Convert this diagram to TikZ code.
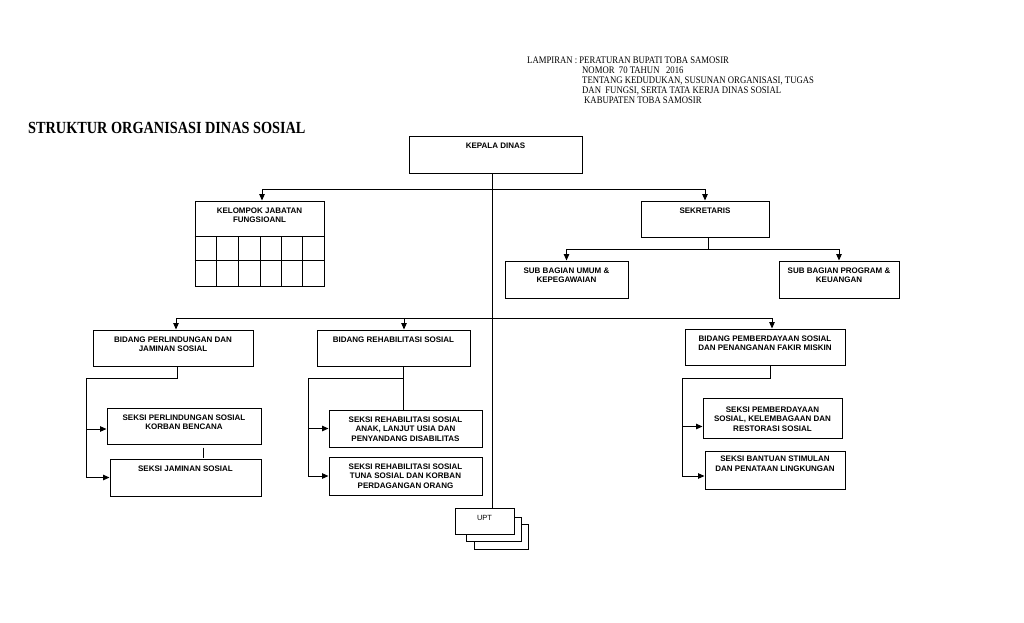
\documentclass[tikz,border=0pt]{standalone}
\usepackage{fontspec}
\setmainfont{Liberation Serif}
\newfontfamily\boxfont{Liberation Sans}
\newfontfamily\lampfont[FakeStretch=0.87]{Liberation Serif}
\newfontfamily\titlefont[FakeStretch=0.84]{Liberation Serif}
\usetikzlibrary{arrows.meta}
\newcommand\bt[4][12]{\parbox[c][#3pt][t]{#2pt}{\centering\rule{0pt}{#1pt}#4}}
\tikzset{
  box/.style={draw, line width=1pt, inner sep=0pt, fill=white,
    font=\boxfont\bfseries\fontsize{8}{9.8}\selectfont},
  uptbox/.style={draw, line width=0.9pt, inner sep=0pt, fill=white,
    font=\boxfont\fontsize{7.5}{8}\selectfont},
  con/.style={line width=1pt},
  arr/.style={con, -{Triangle[length=6.5pt,width=5.5pt]}},
  lamp/.style={anchor=base west, inner sep=0pt, font=\lampfont\fontsize{10}{10}\selectfont},
  grid/.style={line width=1pt}
}
\begin{document}
\begin{tikzpicture}[x=1pt,y=-1pt]
\useasboundingbox (0,0) rectangle (1024,622);

% header text
\node[lamp] (l1) at (527,63.8) {LAMPIRAN : PERATURAN BUPATI TOBA SAMOSIR};
\node[lamp] (l2) at (582,73.6) {NOMOR\ \ 70 TAHUN\ \ \ 2016};
\node[lamp] (l3) at (582,83.4) {TENTANG KEDUDUKAN, SUSUNAN ORGANISASI, TUGAS};
\node[lamp] (l4) at (582,93.2) {DAN\ \ FUNGSI, SERTA TATA KERJA DINAS SOSIAL};
\node[lamp] (l5) at (584,103) {KABUPATEN TOBA SAMOSIR};
\node[anchor=west, inner sep=0pt, font=\titlefont\bfseries\fontsize{17}{20}\selectfont] (title) at (28,128) {STRUKTUR ORGANISASI DINAS SOSIAL};

% UPT stack (drawn first, below trunk)
\node[uptbox] (upt3) at (501,536.5) {\bt{54}{25}{}};
\node[uptbox] (upt2) at (493.5,529) {\bt{55}{24}{}};
\node[uptbox] (upt) at (484.5,521) {\bt[12.8]{59}{26}{UPT}};

% boxes
\node[box] (kd) at (495.5,154.5) {\bt{173}{37}{KEPALA DINAS}};
\node[box] (kjf) at (259.5,243.5) {\bt{129}{85}{KELOMPOK JABATAN\\FUNGSIOANL}};
\node[box] (sek) at (705,219) {\bt{128}{36}{SEKRETARIS}};
\node[box] (sbu) at (566.5,279.5) {\bt{123}{37}{SUB BAGIAN UMUM \&\\KEPEGAWAIAN}};
\node[box] (sbp) at (839,279.5) {\bt{120}{37}{SUB BAGIAN PROGRAM \&\\KEUANGAN}};
\node[box] (bp) at (173,348) {\bt{160}{36}{BIDANG PERLINDUNGAN DAN\\JAMINAN SOSIAL}};
\node[box] (br) at (393.5,348) {\bt{153}{36}{BIDANG REHABILITASI SOSIAL}};
\node[box] (bpm) at (765,347) {\bt{160}{36}{BIDANG PEMBERDAYAAN SOSIAL\\DAN PENANGANAN FAKIR MISKIN}};
\node[box] (spl) at (184,426) {\bt{154}{36}{SEKSI PERLINDUNGAN SOSIAL\\KORBAN BENCANA}};
\node[box] (sjs) at (185.5,477.5) {\bt{151}{37}{SEKSI JAMINAN SOSIAL}};
\node[box] (sra) at (405.5,428.5) {\bt{153}{37}{SEKSI REHABILITASI SOSIAL\\ANAK, LANJUT USIA DAN\\PENYANDANG DISABILITAS}};
\node[box] (srt) at (405.5,476) {\bt{153}{38}{SEKSI REHABILITASI SOSIAL\\TUNA SOSIAL DAN KORBAN\\PERDAGANGAN ORANG}};
\node[box] (spm) at (772.5,418) {\bt[14]{139}{40}{SEKSI PEMBERDAYAAN\\SOSIAL, KELEMBAGAAN DAN\\RESTORASI SOSIAL}};
\node[box] (sbs) at (775,470) {\bt[10.5]{140}{38}{SEKSI BANTUAN STIMULAN\\DAN PENATAAN LINGKUNGAN}};

% KJF grid
\foreach \yy in {36,60}
  \draw[grid] ([yshift=-\yy pt]kjf.north west) -- ([yshift=-\yy pt]kjf.north east);
\foreach \xx in {22,44,66,87,108}
  \draw[grid] ([xshift=\xx pt,yshift=-36pt]kjf.north west) -- ([xshift=\xx pt]kjf.south west);

% junction coordinates
\coordinate (t) at (492,0);
\coordinate (h1) at (492,189);
\coordinate (h2) at (708,249);
\coordinate (h3) at (492,318);
\coordinate (bpj) at (86,378);
\coordinate (brj) at (308,378);
\coordinate (bmj) at (682,378);
\coordinate (tick) at (203,0);
\coordinate (splin) at ([yshift=-3pt]spl.west);
\coordinate (spmin) at ([yshift=-8.5pt]spm.west);
\coordinate (sbsin) at ([yshift=-6pt]sbs.west);
\coordinate (brv) at ([xshift=9.5pt]br.south);

% trunk
\draw[con] (kd.south -| t) -- (upt.north -| t);

% level 1
\draw[arr] (h1) -| ([xshift=2.5pt]kjf.north);
\draw[arr] (h1) -| (sek.north);

% sekretaris
\draw[con] (sek.south -| h2) -- (h2);
\draw[arr] (h2) -| (sbu.north);
\draw[arr] (h2) -| (sbp.north);

% bidang level
\draw[arr] (h3) -| ([xshift=3pt]bp.north);
\draw[arr] (h3) -| ([xshift=10.5pt]br.north);
\draw[arr] (h3) -| ([xshift=7pt]bpm.north);

% bidang perlindungan
\draw[arr] ([xshift=4pt]bp.south) |- (bpj) |- (sjs.west);
\draw[arr] (bpj |- splin) -- (splin);
\draw[con, shorten <=3pt, shorten >=1pt] (spl.south -| tick) -- (sjs.north -| tick);

% bidang rehabilitasi
\draw[con] (brv) -- (brv |- sra.north);
\draw[arr] (brv |- brj) -- (brj) |- (srt.west);
\draw[arr] (brj |- sra.west) -- (sra.west);

% bidang pemberdayaan
\draw[arr] ([xshift=5pt]bpm.south) |- (bmj) |- (sbsin);
\draw[arr] (bmj |- spmin) -- (spmin);
\end{tikzpicture}
\end{document}
